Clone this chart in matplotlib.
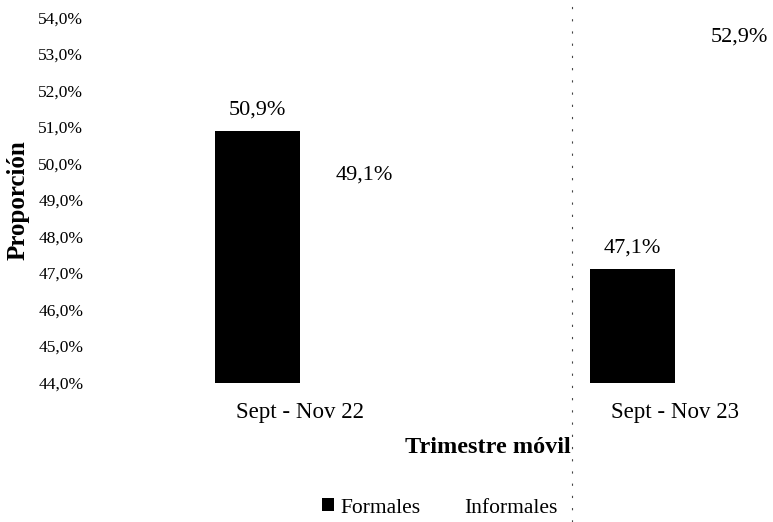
import matplotlib
matplotlib.use("Agg")
import matplotlib.pyplot as plt
from matplotlib.ticker import FuncFormatter, MultipleLocator
from matplotlib.lines import Line2D
import numpy as np

categories = ["Sept - Nov 22", "Sept - Nov 23"]
formales = [50.9, 47.1]
informales = [49.1, 52.9]
series_names = ["Formales", "Informales"]

plt.rcParams['font.family'] = ['Liberation Serif', 'DejaVu Serif']

fig = plt.figure(figsize=(7.73, 5.22), dpi=100)
ax = fig.add_axes([0.1455, 0.2672, 0.970, 0.6993])

x = np.arange(len(categories))
w = 0.2267
b1 = ax.bar(x - w / 2, np.array(formales) - 44, w, bottom=44, color='black', label=series_names[0])
b2 = ax.bar(x + w / 2, np.array(informales) - 44, w, bottom=44, color='white', label=series_names[1])

ax.set_xlim(-0.5, 1.5)
ax.set_ylim(44, 54)
ax.yaxis.set_major_locator(MultipleLocator(1))
ax.yaxis.set_major_formatter(FuncFormatter(lambda v, p: f"{v:.1f}".replace('.', ',') + "%"))
ax.set_xticks(x)
ax.set_xticklabels(categories, fontsize=16.5)
ax.tick_params(axis='y', length=0, pad=21, labelsize=12.5)
ax.tick_params(axis='x', length=0, pad=14)
for s in ax.spines.values():
    s.set_visible(False)

for xi, v in zip(x, formales):
    ax.annotate(f"{v:.1f}".replace('.', ',') + "%", (xi - w / 2, v), xytext=(0, 15),
                textcoords='offset points', ha='center', va='center', fontsize=16)
for xi, v in zip(x, informales):
    ax.annotate(f"{v:.1f}".replace('.', ',') + "%", (xi + w / 2, v), xytext=(16, 15),
                textcoords='offset points', ha='center', va='center', fontsize=16)

ax.set_ylabel("Proporción", fontsize=18, fontweight='bold')
ax.yaxis.set_label_coords(-0.11, 0.5)
ax.set_xlabel("Trimestre móvil", fontsize=17.5, fontweight='bold')
ax.xaxis.set_label_coords(0.5, -0.15)

leg = fig.legend(handles=[b1, b2], labels=series_names, loc='center',
                 bbox_to_anchor=(440 / 773, 1 - 508 / 522), ncol=2, frameon=False,
                 fontsize=15.5, handlelength=0.55, handleheight=0.55,
                 handletextpad=0.3, columnspacing=1.2)

fig.add_artist(Line2D([572 / 773, 572 / 773], [0, 1], transform=fig.transFigure,
                      color='#444444', linewidth=0.8, linestyle=(0, (2, 9))))

fig.savefig("out.png", dpi=100, facecolor='white')
